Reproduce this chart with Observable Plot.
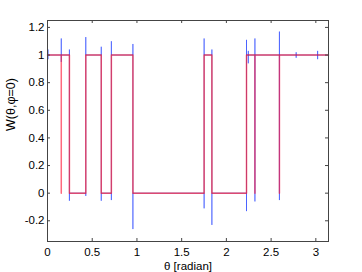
<!DOCTYPE html>
<html>
<head>
<meta charset="utf-8">
<script src="https://cdn.jsdelivr.net/npm/d3@7"></script>
<script src="https://cdn.jsdelivr.net/npm/@observablehq/plot@0.6"></script>
<style>
  html, body { margin: 0; padding: 0; background: white; }
  #chart { width: 362px; height: 272px; }
</style>
</head>
<body>
<div id="chart"></div>
<script>
// Exact step function W(theta, phi=0): breakpoints and level on each interval
const exactEdges = [0, 0.245, 0.428, 0.601, 0.714, 0.955, 1.751, 1.838, 2.225, 3.1416];
const exactLevels = [1, 0, 1, 0, 1, 0, 1, 0, 1];
// Narrow dips (to 0) seen in the red curve
const redDips = [0.154, 2.319, 2.593];
// Blue curve: jumps with overshoot
const blueT     = [0.005, 0.154, 0.245, 0.428, 0.601, 0.714, 0.955, 1.751, 1.838, 2.225, 2.245, 2.319, 2.593, 2.78, 3.02];
const blueHi    = [1.04, 1.12, 1.04, 1.13, 1.06, 1.10, 1.08, 1.12, 1.04, 1.11, 1.03, 1.12, 1.17, 1.02, 1.03];
const blueLo    = [0.97, 0.95, -0.055, -0.02, -0.055, -0.05, -0.26, -0.11, -0.23, -0.13, 0.94, -0.06, -0.05, 0.98, 0.97];
const blueAfter = [1, 1, 0, 1, 0, 1, 0, 1, 0, 1, 1, 1, 1, 1, 1];
// Axis ticks
const xTicks = [0, 0.5, 1, 1.5, 2, 2.5, 3];
const yTicks = [-0.2, 0, 0.2, 0.4, 0.6, 0.8, 1, 1.2];
const xDomain = [0, Math.PI];
const yDomain = [-0.35, 1.25];

// Build line tables from arrays
const black = [];
exactLevels.forEach((lv, i) => {
  black.push({x: exactEdges[i], y: lv});
  black.push({x: exactEdges[i + 1], y: lv});
});

const redEvents = [];
for (let i = 1; i < exactEdges.length - 1; i++) redEvents.push({t: exactEdges[i], after: exactLevels[i], dip: false});
redDips.forEach(t => redEvents.push({t, after: 1, dip: true}));
redEvents.sort((a, b) => a.t - b.t);
const red = [{x: exactEdges[0], y: exactLevels[0]}];
let cur = exactLevels[0];
redEvents.forEach(e => {
  red.push({x: e.t, y: cur});
  if (e.dip) red.push({x: e.t, y: 0});
  red.push({x: e.t, y: e.after});
  cur = e.after;
});
red.push({x: exactEdges[exactEdges.length - 1], y: cur});

const blue = [{x: 0, y: 1}];
let bcur = 1;
blueT.forEach((t, i) => {
  blue.push({x: t, y: bcur});
  if (bcur === 1) { blue.push({x: t, y: blueHi[i]}); blue.push({x: t, y: blueLo[i]}); }
  else { blue.push({x: t, y: blueLo[i]}); blue.push({x: t, y: blueHi[i]}); }
  blue.push({x: t, y: blueAfter[i]});
  bcur = blueAfter[i];
});
blue.push({x: 3.1416, y: bcur});

const W = 362, H = 272, mL = 47, mR = 34, mT = 20, mB = 31;
const innerW = W - mL - mR, innerH = H - mT - mB;
const tickLen = 3;
const axisColor = "#444";

const chart = Plot.plot({
  width: W, height: H,
  marginLeft: mL, marginRight: mR, marginTop: mT, marginBottom: mB,
  x: {domain: xDomain},
  y: {domain: yDomain},
  style: {fontFamily: "'Liberation Sans', Arial, Helvetica, sans-serif", fontSize: "11px", background: "white", color: "black"},
  marks: [
    Plot.line(blue, {x: "x", y: "y", stroke: "#1030ff", strokeWidth: 1, strokeOpacity: 0.5}),
    Plot.line(black, {x: "x", y: "y", stroke: "black", strokeWidth: 0.5, strokeOpacity: 0.4}),
    Plot.line(red, {x: "x", y: "y", stroke: "#ff1838", strokeWidth: 1.5, strokeOpacity: 0.65}),
    Plot.frame({stroke: axisColor, strokeWidth: 1}),
    Plot.tickX(xTicks, {x: d => d, insetTop: innerH - tickLen, stroke: axisColor}),
    Plot.tickX(xTicks, {x: d => d, insetBottom: innerH - tickLen, stroke: axisColor}),
    Plot.tickY(yTicks, {y: d => d, insetRight: innerW - tickLen, stroke: axisColor}),
    Plot.tickY(yTicks, {y: d => d, insetLeft: innerW - tickLen, stroke: axisColor}),
    Plot.axisX(xTicks, {tickSize: 0, tickPadding: 6, tickFormat: d => String(d), label: null, fontSize: 11.5}),
    Plot.axisY(yTicks, {tickSize: 0, tickPadding: 3, tickFormat: d => String(d), label: null, fontSize: 11.5}),
    Plot.text(["θ [radian]"], {frameAnchor: "bottom", dy: 28, fontSize: 11.5}),
    Plot.text(["W(θ,φ=0)"], {frameAnchor: "left", dx: -37, rotate: -90, fontSize: 12.5})
  ]
});
document.getElementById("chart").appendChild(chart);
</script>
</body>
</html>
